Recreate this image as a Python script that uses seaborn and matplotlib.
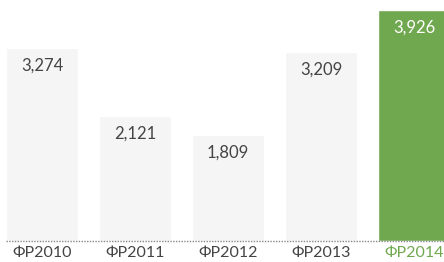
import pandas as pd
import matplotlib.pyplot as plt
import seaborn as sns

years = ["ФР2010", "ФР2011", "ФР2012", "ФР2013", "ФР2014"]
values = [3274, 2121, 1809, 3209, 3926]
bar_colors = ["#f5f5f5", "#f5f5f5", "#f5f5f5", "#f5f5f5", "#70a84f"]
label_colors = ["#444444", "#444444", "#444444", "#444444", "#ffffff"]
tick_colors = ["#444444", "#444444", "#444444", "#444444", "#70a84f"]

df = pd.DataFrame({"Year": years, "Value": values})

sns.set_style("white")
plt.rcParams["font.family"] = ["Lato", "DejaVu Sans"]

fig = plt.figure(figsize=(4.44, 2.62), dpi=100)
ax = fig.add_axes([0, 21 / 262, 1, 241 / 262])

sns.barplot(data=df, x="Year", y="Value", hue="Year", palette=bar_colors,
            width=0.774, legend=False, ax=ax, saturation=1)

ax.set_xlim(-0.452, 4.323)
ax.set_ylim(0, 4096)

# value labels inside the top of each bar
for i, v in enumerate(values):
    ax.annotate(f"{v:,}", (i, v), xytext=(0, -7), textcoords="offset points",
                ha="center", va="top", fontsize=12, color=label_colors[i])

# dotted baseline
ax.axhline(0, xmin=6 / 444, xmax=1, color="#888888", lw=1, ls=(0, (1, 1)), clip_on=False)

ax.set_xlabel("")
ax.set_ylabel("")
ax.set_yticks([])
ax.tick_params(axis="x", length=0, pad=3.5, labelsize=11.5)
for lbl, c in zip(ax.get_xticklabels(), tick_colors):
    lbl.set_color(c)
sns.despine(ax=ax, left=True, bottom=True)

fig.savefig("out.png", dpi=100)
